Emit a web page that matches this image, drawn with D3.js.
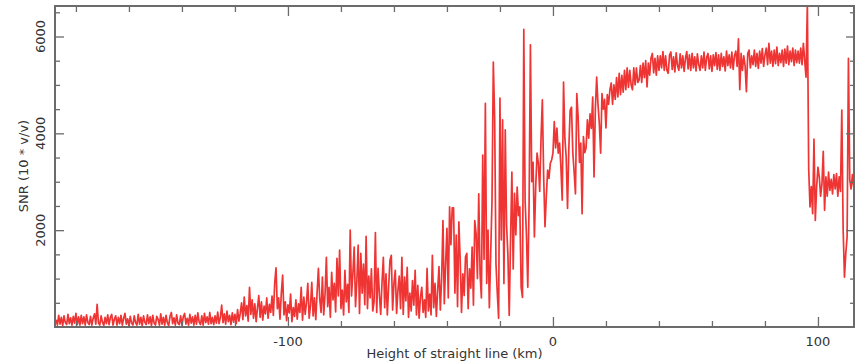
<!DOCTYPE html>
<html>
<head>
<meta charset="utf-8">
<script src="https://cdn.jsdelivr.net/npm/d3@7"></script>
<style>
  html, body { margin: 0; padding: 0; background: #fff; }
  svg { display: block; font-family: "DejaVu Sans", sans-serif; }
</style>
</head>
<body>
<svg id="chart" width="858" height="362"></svg>
<script>
// sampling grid of the profile (km)
const heightStart = -187.5;
const heightStep = 0.5;

// SNR values, one every 0.5 km
const snr = [
  150,40,240,60,200,30,230,90,50,260,70,190,40,220,80,280,50,210,40,240,
  70,210,40,250,90,50,220,40,180,270,60,470,80,40,230,100,30,200,70,250,
  50,200,260,40,160,230,40,200,70,240,40,180,280,60,170,30,220,80,40,230,
  90,40,260,60,200,30,230,100,50,250,70,210,30,240,80,40,220,160,40,270,
  60,200,40,240,90,30,220,300,70,190,40,250,80,50,230,40,210,280,60,180,
  40,260,80,210,40,240,60,290,100,50,230,40,280,90,210,60,300,70,200,50,
  230,80,310,70,200,450,90,270,60,330,110,240,50,290,100,260,70,360,120,280,
  500,150,620,230,440,120,820,260,560,180,480,110,390,650,200,520,140,430,270,600,
  180,470,300,640,240,900,1220,380,600,160,700,1070,250,520,130,460,290,680,110,400,
  220,560,160,480,300,820,140,620,260,510,900,180,440,920,230,600,150,710,1210,580,
  300,1030,250,680,1440,420,820,200,1130,560,900,310,1420,640,1590,380,760,250,1170,520,
  880,300,2000,640,1100,1650,420,950,1690,280,1520,700,1300,460,1870,380,1050,600,1200,330,
  520,1950,300,1210,680,260,920,1440,400,1100,250,830,1380,1480,350,900,1170,280,760,1050,
  380,1440,260,1030,540,1230,200,700,330,960,450,1170,250,860,180,620,820,300,560,200,
  1210,330,680,250,1480,400,900,220,760,1250,350,1000,2200,480,1300,2040,600,2480,1700,2460,
  2460,700,1900,420,2170,1380,300,1100,650,1450,1520,380,1200,800,1650,450,2200,1930,1000,2750,
  1100,600,3550,1400,4620,900,2000,400,1500,2600,5470,4310,1300,700,180,4730,1800,4280,900,4070,
  2100,1500,240,1800,3200,1200,2760,1900,2890,2300,2480,820,610,6150,2600,1900,820,2550,5830,3000,
  3400,1860,2900,3590,3380,2800,3900,4690,3100,2070,2700,3240,3070,3380,3450,3590,4240,3700,4110,3590,
  3800,3300,2620,5060,3900,3500,2450,3700,4480,4540,3600,3200,2750,4820,4340,3400,3800,2340,3930,3600,
  3700,4280,3900,4400,4100,4750,3100,4500,5160,4600,4200,3590,4820,4500,4700,4110,4800,4600,4900,5040,
  4600,5000,4700,5150,4750,5240,4800,5200,4850,5300,4900,5350,4950,5300,5000,4900,5350,5000,5350,5050,
  5100,5400,5050,5450,5150,5500,4960,5450,5200,5550,5650,5250,5550,5200,5600,5300,5600,5350,5690,5300,
  5600,5300,5240,5620,5680,5320,5580,5270,5660,5400,5300,5640,5350,5600,5280,5550,5690,5330,5620,5300,
  5650,5350,5580,5290,5640,5420,5300,5600,5350,5680,5300,5570,5650,5330,5600,5280,5620,5400,5670,5320,
  5620,5300,5650,5380,5580,5290,5700,5400,5620,5350,5680,5320,5600,5700,5380,5950,4900,5650,5300,5600,
  5400,4860,5650,5720,5350,5600,5420,5720,5380,5650,5340,5700,5450,5750,5380,5620,5760,5420,5860,5450,
  5700,5380,5720,5440,5780,5400,5650,5460,5720,5380,5740,5450,5800,5420,5700,5480,5760,5400,5720,5460,
  5700,5450,5760,5420,5860,5500,5160,6700,3280,2480,2900,2340,3880,2200,2900,3300,3100,2700,2950,3630,
  2410,3100,2700,3200,2820,3050,2750,3150,2850,3170,2700,3100,2800,4480,2030,1030,1520,1860,5550,3040,
  2850,3150,2900,3050
];

const xMajor = [-100, 0, 100];
const xMinor = [-180, -160, -140, -120, -80, -60, -40, -20, 20, 40, 60, 80];
const yMajor = [2000, 4000, 6000];
const yMinor = [500, 1000, 1500, 2500, 3000, 3500, 4500, 5000, 5500, 6500];

const plot = { left: 55, right: 854, top: 6, bottom: 327 };
const axisColor = '#6b6b6b';
const textColor = '#333';

const x = d3.scaleLinear().domain([-187.9, 113.6]).range([plot.left, plot.right]);
const y = d3.scaleLinear().domain([0, 6630]).range([plot.bottom, plot.top]);

const svg = d3.select('#chart');

svg.append('clipPath').attr('id', 'clip')
  .append('rect')
  .attr('x', plot.left).attr('y', plot.top)
  .attr('width', plot.right - plot.left).attr('height', plot.bottom - plot.top);

const line = d3.line()
  .x((d, i) => x(heightStart + i * heightStep))
  .y(d => y(d));

svg.append('path')
  .datum(snr)
  .attr('clip-path', 'url(#clip)')
  .attr('fill', 'none')
  .attr('stroke', '#ef3434')
  .attr('stroke-width', 1.7)
  .attr('stroke-linejoin', 'round')
  .attr('d', line);

// ticks pointing inward on all four sides
function tickAxis(axis, values, size, transform) {
  const g = svg.append('g')
    .attr('transform', transform)
    .call(axis.tickValues(values).tickSizeInner(size).tickSizeOuter(0).tickFormat(''));
  g.select('.domain').remove();
  g.selectAll('line').attr('stroke', axisColor).attr('stroke-width', 1.3);
  return g;
}

tickAxis(d3.axisBottom(x), xMajor, 10, `translate(0,${plot.top})`);
tickAxis(d3.axisBottom(x), xMinor, 6, `translate(0,${plot.top})`);
tickAxis(d3.axisTop(x), xMajor, 10, `translate(0,${plot.bottom})`);
tickAxis(d3.axisTop(x), xMinor, 6, `translate(0,${plot.bottom})`);
tickAxis(d3.axisRight(y), yMajor, 9, `translate(${plot.left},0)`);
tickAxis(d3.axisRight(y), yMinor, 5, `translate(${plot.left},0)`);
tickAxis(d3.axisLeft(y), yMajor, 8, `translate(${plot.right},0)`);
tickAxis(d3.axisLeft(y), yMinor, 4, `translate(${plot.right},0)`);

// frame
svg.append('rect')
  .attr('x', plot.left).attr('y', plot.top)
  .attr('width', plot.right - plot.left).attr('height', plot.bottom - plot.top)
  .attr('fill', 'none')
  .attr('stroke', axisColor)
  .attr('stroke-width', 2);

// tick labels
svg.append('g').selectAll('text')
  .data(xMajor)
  .join('text')
  .attr('x', d => x(d))
  .attr('y', 346)
  .attr('text-anchor', 'middle')
  .attr('font-size', 13)
  .attr('fill', textColor)
  .text(d => d);

svg.append('g').selectAll('text')
  .data(yMajor)
  .join('text')
  .attr('transform', d => `translate(45,${y(d)}) rotate(-90)`)
  .attr('text-anchor', 'middle')
  .attr('font-size', 13)
  .attr('fill', textColor)
  .text(d => d);

// axis titles
svg.append('text')
  .attr('x', (plot.left + plot.right) / 2)
  .attr('y', 358)
  .attr('text-anchor', 'middle')
  .attr('font-size', 13)
  .attr('fill', textColor)
  .text('Height of straight line (km)');

svg.append('text')
  .attr('transform', `translate(28,166) rotate(-90)`)
  .attr('text-anchor', 'middle')
  .attr('font-size', 13)
  .attr('fill', textColor)
  .text('SNR (10 * v/v)');
</script>
</body>
</html>
